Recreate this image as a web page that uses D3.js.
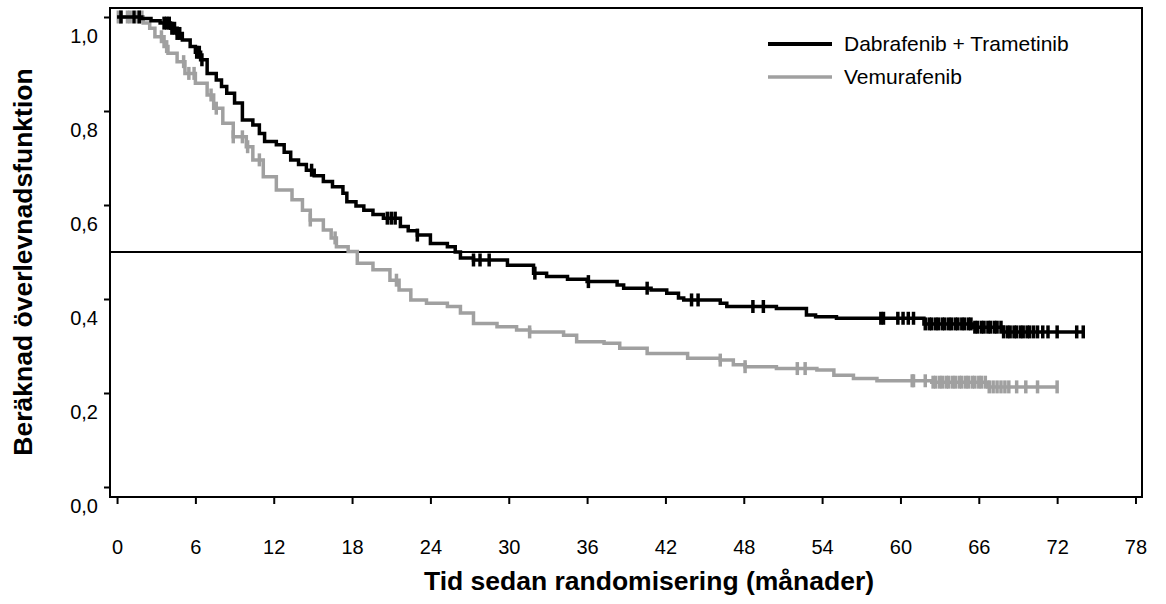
<!DOCTYPE html>
<html>
<head>
<meta charset="utf-8">
<script src="https://cdn.jsdelivr.net/npm/d3@7"></script>
<style>
  body { margin: 0; background: #fff; }
  text { font-family: "Liberation Sans", Arial, sans-serif; }
</style>
</head>
<body>
<div id="chart"></div>
<script>
// Kaplan-Meier: Dabrafenib + Trametinib (black)
var blackTimes = [0, 1.9, 2.6, 3.3, 4.1, 4.6, 5.0, 5.6, 6.0, 6.4, 6.9, 7.6, 8.0, 8.4, 9.0, 9.6, 10.4, 10.9, 11.3, 12.2,
  12.8, 13.3, 13.9, 14.5, 15.1, 15.8, 16.5, 17.3, 17.6, 18.3, 18.9, 19.6, 20.4, 21.7, 22.3, 23.0, 24.0, 25.3, 25.9, 26.3,
  27.3, 29.9, 31.9, 32.9, 34.5, 36.0, 38.3, 38.8, 40.9, 42.1, 43.0, 43.4, 46.2, 46.7, 50.5, 52.8, 53.5, 55.1, 61.8, 65.6, 67.9];
var blackSurv = [1.0, 0.997, 0.992, 0.987, 0.976, 0.965, 0.951, 0.937, 0.925, 0.909, 0.880, 0.866, 0.852, 0.838, 0.817, 0.781, 0.770, 0.752, 0.735, 0.728,
  0.712, 0.696, 0.686, 0.674, 0.662, 0.650, 0.639, 0.625, 0.607, 0.598, 0.589, 0.580, 0.572, 0.554, 0.545, 0.536, 0.518, 0.511, 0.500, 0.487,
  0.483, 0.472, 0.455, 0.448, 0.442, 0.437, 0.430, 0.423, 0.419, 0.412, 0.402, 0.398, 0.391, 0.384, 0.380, 0.366, 0.362, 0.359, 0.347, 0.340, 0.330];
var blackEnd = 74.0;
var blackCensor = [0.3, 1.3, 1.7, 3.6, 3.8, 4.0, 4.2, 4.4, 4.6, 4.8, 6.1, 6.3, 6.5, 14.9, 20.7, 21.0, 21.3, 23.0,
  27.3, 27.8, 28.5, 32.0, 36.1, 40.6, 44.0, 44.5, 48.7, 49.5, 58.5, 58.7, 59.8, 60.2, 60.6, 61.0,
  61.9, 62.2, 62.4, 62.7, 62.9, 63.2, 63.4, 63.7, 63.9, 64.2, 64.4, 64.7, 64.9, 65.2, 65.4, 65.7, 65.9,
  66.2, 66.4, 66.7, 66.9, 67.2, 67.4, 67.7, 67.9, 68.2, 68.4, 68.7, 68.9, 69.2, 69.4, 69.7, 69.9, 70.2, 70.5,
  70.9, 71.3, 72.0, 73.5, 74.0];

// Kaplan-Meier: Vemurafenib (gray)
var grayTimes = [0, 2.0, 2.5, 2.9, 3.6, 3.9, 4.6, 5.2, 6.0, 6.9, 7.4, 8.1, 8.9, 9.9, 10.4, 11.2, 12.2, 13.4, 14.2, 14.8,
  15.8, 16.4, 16.8, 17.7, 18.4, 19.6, 20.9, 21.6, 22.5, 23.7, 25.3, 26.3, 27.3, 29.1, 30.6, 31.6, 34.2, 35.2, 37.3, 38.5,
  40.6, 43.7, 46.2, 47.2, 48.1, 50.5, 53.6, 54.9, 56.4, 58.2, 62.4, 66.7];
var graySurv = [1.0, 0.987, 0.976, 0.958, 0.937, 0.923, 0.905, 0.880, 0.859, 0.834, 0.806, 0.774, 0.745, 0.724, 0.696, 0.660, 0.632, 0.611, 0.589, 0.568,
  0.547, 0.530, 0.511, 0.501, 0.476, 0.462, 0.440, 0.419, 0.398, 0.391, 0.384, 0.370, 0.348, 0.341, 0.334, 0.330, 0.323, 0.309, 0.306, 0.295,
  0.284, 0.274, 0.270, 0.260, 0.256, 0.252, 0.249, 0.238, 0.231, 0.226, 0.223, 0.213];
var grayEnd = 72.0;
var grayCensor = [0.1, 0.3, 0.8, 1.0, 1.6, 1.9, 3.4, 3.8, 5.1, 5.5, 5.9, 7.2, 7.6, 8.9, 9.6, 10.0, 10.9, 14.8, 16.7,
  21.4, 31.6, 46.2, 48.1, 52.1, 52.7, 60.9, 61.0, 61.9,
  62.5, 62.7, 63.0, 63.2, 63.5, 63.7, 64.0, 64.2, 64.5, 64.7, 65.0, 65.2, 65.5, 65.7, 66.0, 66.2, 66.5,
  66.8, 67.1, 67.4, 67.7, 68.0, 68.3, 68.9, 69.6, 70.5, 72.0];

var xTicks = [0, 6, 12, 18, 24, 30, 36, 42, 48, 54, 60, 66, 72, 78];
var yTicks = [0, 0.2, 0.4, 0.6, 0.8, 1.0];
var medianLevel = 0.5;
var seriesNames = ["Dabrafenib + Trametinib", "Vemurafenib"];
var seriesColors = ["#000000", "#a0a0a0"];

var W = 1166, H = 604;
var plotLeft = 110, plotRight = 1142, plotTop = 8, plotBottom = 497;

var svg = d3.select('#chart').append('svg').attr('width', W).attr('height', H);

var x = d3.scaleLinear().domain([-0.54, 78.5]).range([plotLeft, plotRight]);
var y = d3.scaleLinear().domain([0, 1]).range([487, 17]);

var sv = d3.formatLocale({ decimal: ",", thousands: " ", grouping: [3], currency: ["", ""] });
var fmt = sv.format(".1f");

// x axis
var gx = svg.append('g')
  .attr('transform', 'translate(0,' + plotBottom + ')')
  .call(d3.axisBottom(x).tickValues(xTicks).tickSize(7).tickSizeOuter(0).tickPadding(36));
gx.select('.domain').remove();
gx.selectAll('line').attr('stroke-width', 2);
gx.selectAll('text').attr('font-size', 20).attr('font-family', '"Liberation Sans", Arial, sans-serif').attr('fill', '#000');

// y axis
var gy = svg.append('g')
  .attr('transform', 'translate(' + plotLeft + ',0)')
  .call(d3.axisLeft(y).tickValues(yTicks).tickFormat(fmt).tickSize(6).tickSizeOuter(0).tickPadding(6));
gy.select('.domain').remove();
gy.selectAll('line').attr('stroke-width', 2);
gy.selectAll('text').attr('font-size', 20).attr('y', 19).attr('font-family', '"Liberation Sans", Arial, sans-serif').attr('fill', '#000');

// frame
svg.append('rect')
  .attr('x', plotLeft).attr('y', plotTop)
  .attr('width', plotRight - plotLeft).attr('height', plotBottom - plotTop)
  .attr('fill', 'none').attr('stroke', '#000').attr('stroke-width', 2);

// median reference line
svg.append('line')
  .attr('x1', plotLeft).attr('x2', plotRight)
  .attr('y1', y(medianLevel)).attr('y2', y(medianLevel))
  .attr('stroke', '#000').attr('stroke-width', 2);

var line = d3.line()
  .x(function(d) { return x(d[0]); })
  .y(function(d) { return y(d[1]); })
  .curve(d3.curveStepAfter);

function drawSeries(times, surv, end, censor, color, width) {
  var pts = times.map(function(t, i) { return [t, surv[i]]; });
  pts.push([end, surv[surv.length - 1]]);
  svg.append('path')
    .attr('d', line(pts))
    .attr('fill', 'none')
    .attr('stroke', color)
    .attr('stroke-width', width);

  var g = svg.append('g');
  g.selectAll('line').data(censor).enter().append('line')
    .attr('x1', function(t) { return x(t); })
    .attr('x2', function(t) { return x(t); })
    .attr('y1', function(t) { return y(surv[d3.bisectRight(times, t) - 1]) - 6.5; })
    .attr('y2', function(t) { return y(surv[d3.bisectRight(times, t) - 1]) + 6.5; })
    .attr('stroke', color)
    .attr('stroke-width', 3.5);
}

drawSeries(grayTimes, graySurv, grayEnd, grayCensor, seriesColors[1], 3.5);
drawSeries(blackTimes, blackSurv, blackEnd, blackCensor, seriesColors[0], 3.5);

// legend
var lg = svg.append('g');
seriesNames.forEach(function(name, i) {
  var ly = 44 + i * 33;
  lg.append('line')
    .attr('x1', 768).attr('x2', 832).attr('y1', ly).attr('y2', ly)
    .attr('stroke', seriesColors[i]).attr('stroke-width', i === 0 ? 4 : 3.5);
  lg.append('text')
    .attr('x', 844).attr('y', ly + 7)
    .attr('font-size', 21)
    .text(name);
});

// axis titles
svg.append('text')
  .attr('x', 649).attr('y', 590)
  .attr('text-anchor', 'middle')
  .attr('font-size', 26.5).attr('font-weight', 'bold')
  .text('Tid sedan randomisering (månader)');

svg.append('text')
  .attr('transform', 'translate(32,262) rotate(-90)')
  .attr('text-anchor', 'middle')
  .attr('font-size', 26.5).attr('font-weight', 'bold')
  .text('Beräknad överlevnadsfunktion');
</script>
</body>
</html>
